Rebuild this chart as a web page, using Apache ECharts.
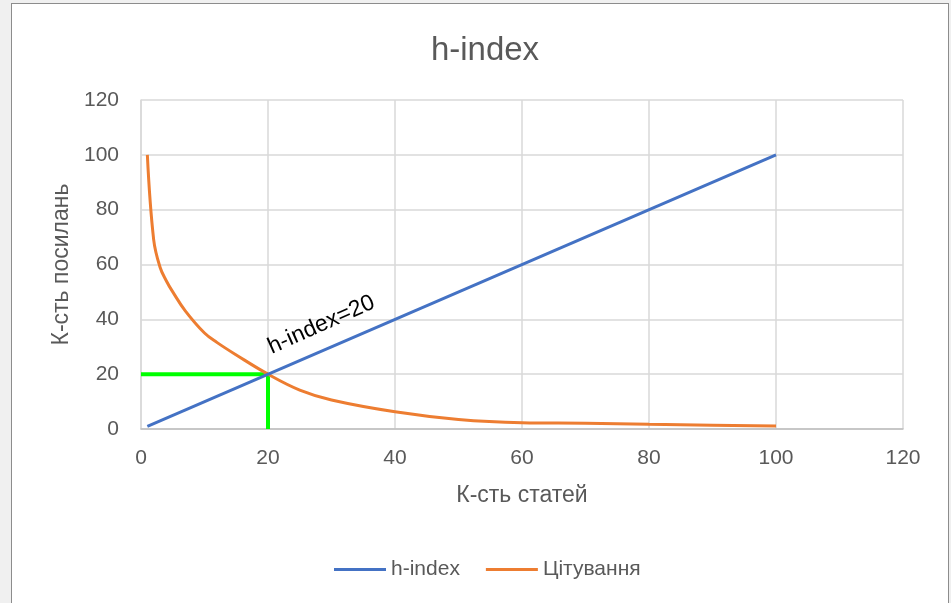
<!DOCTYPE html>
<html>
<head>
<meta charset="utf-8">
<script src="https://cdn.jsdelivr.net/npm/echarts@6/dist/echarts.min.js"></script>
<style>
  html, body { margin: 0; padding: 0; background: #f0f0f0; }
  #frame { position: absolute; left: 11px; top: 3px; width: 936px; height: 620px; background: #fff; border: 1px solid #8c8c8c; }
  #main { position: absolute; left: 0; top: 0; width: 951px; height: 603px; }
</style>
</head>
<body>
<div id="frame"></div>
<div id="main"></div>
<script>
// h-index: y = x
const hIndexX = [1, 100];
const hIndexY = [1, 100];

// цитування по статтях (відсортовано)
const citeX = [1, 2, 3, 4, 5, 7, 10, 12, 15, 20, 25, 30, 40, 50, 60, 70, 80, 90, 100];
const citeY = [100, 69, 59, 54, 50, 43, 35, 31.5, 27, 20, 14.2, 10.6, 6.3, 3.5, 2.3, 2.1, 1.7, 1.4, 1.1];

// зелені направляючі до точки h = 20
const hValue = 20;
const guideHX = [0, hValue];
const guideHY = [hValue, hValue];
const guideVX = [hValue, hValue];
const guideVY = [0, hValue];

const axisTicks = [0, 20, 40, 60, 80, 100, 120];

const zip = (xs, ys) => xs.map((x, i) => [x, ys[i]]);

const chart = echarts.init(document.getElementById('main'));

const labelColor = '#595959';
const font = 'Liberation Sans, Arial, sans-serif';

chart.setOption({
    backgroundColor: 'transparent',
    animation: false,
    title: {
        text: 'h-index',
        left: 480,
        textAlign: 'center',
        top: 29,
        textStyle: { color: labelColor, fontSize: 33, fontWeight: 'normal', fontFamily: font },
    },
    legend: {
        data: ['h-index', 'Цітування'],
        left: 329,
        top: 554,
        itemWidth: 52,
        itemHeight: 3,
        itemGap: 26,
        icon: 'rect',
        textStyle: { color: labelColor, fontSize: 21, fontFamily: font },
    },
    grid: { left: 141, right: 48, top: 100, bottom: 174 },
    xAxis: {
        type: 'value',
        min: axisTicks[0],
        max: axisTicks[axisTicks.length - 1],
        interval: 20,
        name: 'К-сть статей',
        nameLocation: 'middle',
        nameGap: 55,
        nameTextStyle: { color: labelColor, fontSize: 23, fontFamily: font },
        axisLine: { show: true, lineStyle: { color: '#bfbfbf', width: 1.5 } },
        axisTick: { show: false },
        axisLabel: { color: labelColor, fontSize: 21, margin: 19, fontFamily: font },
        splitLine: { show: true, lineStyle: { color: '#d9d9d9', width: 1.5 } },
    },
    yAxis: {
        type: 'value',
        min: axisTicks[0],
        max: axisTicks[axisTicks.length - 1],
        interval: 20,
        name: 'К-сть посилань',
        nameLocation: 'middle',
        nameGap: 68,
        nameTextStyle: { color: labelColor, fontSize: 23, fontFamily: font },
        axisLine: { show: true, lineStyle: { color: '#d9d9d9', width: 1.5 } },
        axisTick: { show: false },
        axisLabel: { color: labelColor, fontSize: 21, margin: 22, fontFamily: font },
        splitLine: { show: true, lineStyle: { color: '#d9d9d9', width: 1.5 } },
    },
    series: [
        {
            name: 'guideH',
            type: 'line',
            data: zip(guideHX, guideHY),
            showSymbol: false,
            lineStyle: { color: '#00ff00', width: 4 },
            z: 1,
        },
        {
            name: 'guideV',
            type: 'line',
            data: zip(guideVX, guideVY),
            showSymbol: false,
            lineStyle: { color: '#00ff00', width: 4 },
            z: 1,
        },
        {
            name: 'h-index',
            type: 'line',
            data: zip(hIndexX, hIndexY),
            showSymbol: false,
            itemStyle: { color: '#4472c4' },
            lineStyle: { color: '#4472c4', width: 3 },
            z: 3,
        },
        {
            name: 'Цітування',
            type: 'line',
            data: zip(citeX, citeY),
            smooth: 0.4,
            showSymbol: false,
            itemStyle: { color: '#ed7d31' },
            lineStyle: { color: '#ed7d31', width: 3 },
            z: 2,
        },
    ],
});

// підпис "h-index=20" вздовж синьої лінії
const labelPos = chart.convertToPixel({ gridIndex: 0 }, [28.4, 38]);
chart.setOption({
    graphic: [{
        type: 'text',
        x: labelPos[0],
        y: labelPos[1],
        rotation: 24 * Math.PI / 180,
        style: {
            text: 'h-index=20',
            fill: '#000',
            fontSize: 23,
            fontFamily: font,
            align: 'center',
            verticalAlign: 'middle',
        },
    }],
});
</script>
</body>
</html>
